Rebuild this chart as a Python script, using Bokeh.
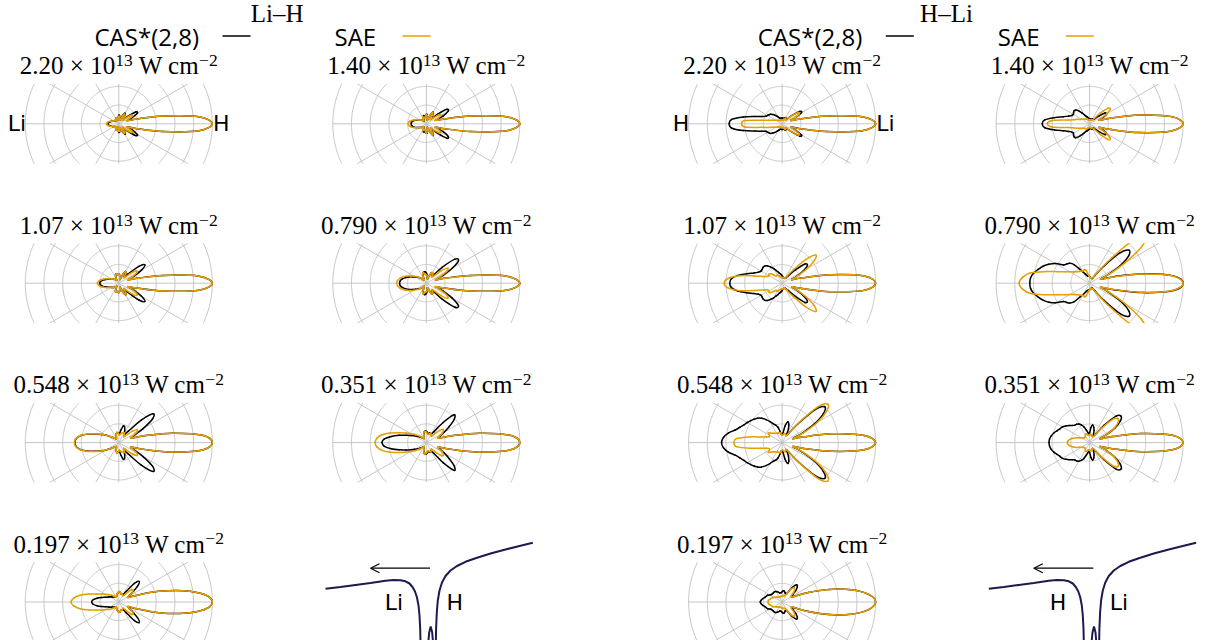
import numpy as np
from bokeh.plotting import figure
from bokeh.models import Range1d, Arrow, OpenHead
from bokeh.core.properties import value
from bokeh.embed import file_html
from bokeh.resources import INLINE

# ---------------- data ----------------
ANGLES_DEG = list(range(0, 181, 5))   # distributions are symmetric about the molecular axis
INTENSITY_LABELS = ["2.20", "1.40", "1.07", "0.790", "0.548", "0.351", "0.197"]
SERIES_NAMES = ["CAS*(2,8)", "SAE"]
TITLES = ["Li\u2013H", "H\u2013Li"]
RING_RADII = [1, 2, 3, 4, 5]
SPOKE_ANGLES = list(range(0, 360, 30))

# Li-H orientation (radius vs emission angle, 0 deg = towards H)
LIH_220_CAS = [5.0,4.3,2.4,1.0,0.5,0.8,1.15,1.1,0.6,0.3, 0.4,0.6,0.65,0.5,0.3,0.2,0.3,0.45,0.45,0.35, 0.25,0.2,0.3,0.35,0.3,0.2,0.2,0.25,0.25,0.25, 0.3,0.35,0.4,0.45,0.52,0.58,0.6]
LIH_220_SAE = [5.0,4.3,2.4,1.0,0.45,0.55,0.85,0.8,0.45,0.25, 0.35,0.55,0.6,0.45,0.25,0.2,0.3,0.4,0.4,0.35, 0.25,0.2,0.3,0.35,0.3,0.2,0.2,0.25,0.3,0.3, 0.3,0.35,0.4,0.5,0.58,0.63,0.66]
LIH_140_CAS = [5.0,4.3,2.4,1.0,0.55,1.0,1.35,1.35,0.8,0.35, 0.45,0.65,0.72,0.55,0.3,0.2,0.35,0.5,0.5,0.45, 0.4,0.45,0.45,0.35,0.25,0.2,0.2,0.25,0.3,0.35, 0.4,0.48,0.58,0.68,0.75,0.8,0.8]
LIH_140_SAE = [5.0,4.3,2.4,1.0,0.5,0.7,0.9,0.85,0.5,0.3, 0.4,0.6,0.7,0.55,0.3,0.2,0.3,0.45,0.5,0.45, 0.35,0.3,0.35,0.4,0.35,0.25,0.2,0.25,0.3,0.35, 0.4,0.5,0.62,0.75,0.87,0.95,0.97]
LIH_107_CAS = [5.0,4.3,2.4,1.0,0.55,0.9,1.4,1.7,1.4,0.7, 0.45,0.65,0.72,0.55,0.3,0.2,0.3,0.45,0.5,0.5, 0.45,0.5,0.5,0.4,0.25,0.2,0.25,0.3,0.35,0.4, 0.45,0.5,0.62,0.75,0.9,0.98,1.02]
LIH_107_SAE = [5.0,4.3,2.4,1.0,0.5,0.8,1.1,1.15,0.8,0.4, 0.45,0.65,0.72,0.55,0.3,0.2,0.3,0.45,0.5,0.5, 0.45,0.5,0.5,0.4,0.25,0.2,0.25,0.3,0.35,0.4, 0.45,0.55,0.7,0.85,1.0,1.1,1.15]
LIH_079_CAS = [5.0,4.3,2.4,1.0,0.55,1.0,1.6,2.1,2.0,1.2, 0.5,0.6,0.65,0.6,0.4,0.25,0.3,0.45,0.55,0.6, 0.62,0.6,0.5,0.35,0.25,0.2,0.25,0.35,0.45,0.55, 0.65,0.8,0.98,1.15,1.3,1.4,1.43]
LIH_079_SAE = [5.0,4.3,2.4,1.0,0.5,0.8,1.25,1.4,1.05,0.5, 0.45,0.6,0.65,0.6,0.4,0.25,0.3,0.4,0.45,0.45, 0.5,0.6,0.55,0.4,0.25,0.2,0.25,0.35,0.45,0.6, 0.75,0.92,1.12,1.3,1.45,1.55,1.58]
LIH_055_CAS = [5.0,4.5,2.9,1.4,0.7,0.9,1.5,2.2,2.4,1.7, 0.8,0.55,0.6,0.75,0.9,0.92,0.7,0.5,0.45,0.5, 0.55,0.5,0.4,0.3,0.25,0.25,0.3,0.35,0.45,0.58, 0.78,1.02,1.35,1.75,2.1,2.3,2.35]
LIH_055_SAE = [5.0,4.5,2.9,1.4,0.7,0.8,1.1,1.2,0.95,0.5, 0.4,0.5,0.6,0.6,0.55,0.5,0.45,0.4,0.45,0.5, 0.55,0.5,0.4,0.3,0.25,0.25,0.3,0.35,0.45,0.6, 0.8,1.05,1.38,1.78,2.12,2.32,2.37]
LIH_035_CAS = [5.0,4.5,2.9,1.4,0.7,0.8,1.1,1.5,1.95,2.1, 1.4,0.7,0.5,0.55,0.55,0.5,0.5,0.55,0.6,0.62, 0.6,0.5,0.4,0.3,0.25,0.28,0.33,0.4,0.48,0.58, 0.72,0.9,1.15,1.5,1.9,2.25,2.37]
LIH_035_SAE = [5.0,4.5,2.9,1.4,0.7,0.7,0.95,1.12,1.1,0.75, 0.45,0.45,0.5,0.55,0.5,0.45,0.45,0.5,0.55,0.6, 0.6,0.5,0.4,0.3,0.25,0.3,0.38,0.48,0.6,0.75, 0.95,1.2,1.55,2.0,2.4,2.65,2.74]
LIH_020_CAS = [5.0,4.6,3.5,2.2,1.1,0.6,0.6,0.85,1.3,1.55, 1.3,0.7,0.45,0.45,0.45,0.45,0.5,0.55,0.55,0.5, 0.45,0.4,0.35,0.3,0.3,0.32,0.36,0.4,0.42,0.48, 0.55,0.62,0.75,0.95,1.18,1.38,1.45]
LIH_020_SAE = [5.0,4.6,3.5,2.2,1.1,0.55,0.6,0.85,1.0,0.9, 0.55,0.4,0.4,0.45,0.45,0.45,0.5,0.55,0.55,0.5, 0.45,0.4,0.35,0.3,0.3,0.35,0.42,0.5,0.6,0.7, 0.8,1.0,1.25,1.65,2.1,2.42,2.55]

# H-Li orientation (0 deg = towards Li)
HLI_220_CAS = [5.0,4.3,2.4,1.0,0.5,0.8,1.2,1.15,0.7,0.35, 0.3,0.35,0.38,0.35,0.3,0.3,0.3,0.3,0.3,0.3, 0.3,0.3,0.32,0.36,0.42,0.5,0.6,0.7,0.8,0.85, 0.9,0.95,1.15,1.5,2.1,2.7,2.83]
HLI_220_SAE = [5.0,4.3,2.4,1.0,0.5,0.75,1.05,1.05,0.65,0.3, 0.25,0.3,0.35,0.3,0.25,0.2,0.2,0.2,0.2,0.2, 0.2,0.2,0.2,0.2,0.2,0.22,0.24,0.26,0.28,0.32, 0.38,0.45,0.55,0.75,1.1,2.0,2.17]
HLI_140_CAS = [5.0,4.4,2.7,1.2,0.55,0.8,1.05,1.0,0.65,0.35, 0.3,0.3,0.3,0.3,0.28,0.25,0.25,0.25,0.25,0.28, 0.3,0.35,0.4,0.45,0.55,0.7,0.9,1.05,1.08,1.05, 1.0,1.05,1.2,1.45,1.9,2.4,2.53]
HLI_140_SAE = [5.0,4.4,2.7,1.2,0.55,0.7,1.05,1.35,1.3,0.8, 0.35,0.25,0.25,0.25,0.22,0.2,0.2,0.2,0.2,0.2, 0.2,0.22,0.25,0.28,0.3,0.32,0.33,0.35,0.38,0.42, 0.5,0.55,0.7,0.85,1.15,2.0,2.26]
HLI_107_CAS = [5.0,4.4,2.6,1.1,0.55,0.85,1.3,1.65,1.6,1.0, 0.5,0.35,0.3,0.3,0.3,0.3,0.3,0.35,0.4,0.45, 0.5,0.55,0.65,0.75,0.9,1.05,1.2,1.3,1.32,1.3, 1.3,1.4,1.6,1.95,2.4,2.72,2.8]
HLI_107_SAE = [5.0,4.4,2.6,1.1,0.55,0.9,1.5,2.1,2.35,1.8, 0.9,0.45,0.3,0.3,0.3,0.3,0.3,0.3,0.3,0.3, 0.32,0.35,0.4,0.45,0.5,0.5,0.5,0.6,0.78,0.85, 0.8,0.85,1.05,1.5,2.3,2.9,3.1]
HLI_079_CAS = [5.0,4.5,2.9,1.35,0.65,1.1,1.9,2.55,2.75,2.3, 1.2,0.5,0.3,0.28,0.28,0.3,0.3,0.32,0.35,0.38, 0.38,0.4,0.45,0.55,0.7,0.9,1.3,1.5,1.6,1.7, 2.1,2.4,2.65,2.85,3.05,3.17,3.2]
HLI_079_SAE = [5.0,4.45,2.8,1.25,0.6,1.2,2.2,3.4,3.9,3.1, 1.5,0.6,0.35,0.3,0.3,0.3,0.3,0.3,0.35,0.4, 0.5,0.7,0.78,0.75,0.75,0.8,0.82,0.88,0.95,1.05, 1.22,1.45,1.8,2.4,3.2,3.6,3.77]
HLI_055_CAS = [5.0,4.4,2.7,1.2,0.6,1.2,2.0,2.7,2.98,2.5, 1.3,0.6,0.5,0.8,1.05,1.15,0.9,0.5,0.45,0.45, 0.6,0.85,1.0,1.1,1.3,1.5,1.7,1.85,1.95,2.05, 2.15,2.25,2.4,2.6,2.92,3.15,3.24]
HLI_055_SAE = [5.0,4.4,2.7,1.2,0.6,1.3,2.2,2.9,3.2,2.7, 1.4,0.6,0.4,0.45,0.5,0.5,0.45,0.4,0.4,0.45, 0.55,0.55,0.55,0.55,0.58,0.6,0.65,0.7,0.8,0.9, 0.78,0.75,0.88,1.15,1.75,2.45,2.57]
HLI_035_CAS = [5.0,4.45,2.8,1.25,0.6,1.0,1.55,2.0,2.2,2.0, 1.2,0.55,0.4,0.5,0.7,0.85,0.95,0.8,0.5,0.45, 0.55,0.7,0.9,1.05,1.15,1.2,1.22,1.3,1.42,1.55, 1.68,1.75,1.85,1.98,2.08,2.15,2.17]
HLI_035_SAE = [5.0,4.45,2.8,1.25,0.6,1.0,1.5,1.85,1.98,1.75, 1.0,0.5,0.35,0.35,0.35,0.4,0.45,0.45,0.4,0.38, 0.4,0.45,0.5,0.5,0.45,0.4,0.38,0.38,0.4,0.45, 0.5,0.6,0.75,0.9,1.05,1.15,1.19]
HLI_020_CAS = [5.0,4.65,3.75,2.6,1.5,0.7,0.6,0.7,0.95,1.15, 1.2,0.95,0.55,0.45,0.5,0.55,0.6,0.6,0.55,0.5, 0.5,0.5,0.55,0.6,0.65,0.68,0.68,0.67,0.68,0.7, 0.75,0.85,0.9,0.95,1.05,1.12,1.17]
HLI_020_SAE = [5.0,4.65,3.75,2.6,1.5,0.65,0.55,0.6,0.8,0.95, 1.0,0.85,0.5,0.4,0.35,0.35,0.35,0.35,0.32,0.3, 0.3,0.3,0.3,0.3,0.3,0.32,0.35,0.38,0.4,0.45, 0.5,0.55,0.6,0.65,0.7,0.74,0.75]

LIH_PANELS = [(LIH_220_CAS, LIH_220_SAE), (LIH_140_CAS, LIH_140_SAE), (LIH_107_CAS, LIH_107_SAE),
              (LIH_079_CAS, LIH_079_SAE), (LIH_055_CAS, LIH_055_SAE), (LIH_035_CAS, LIH_035_SAE),
              (LIH_020_CAS, LIH_020_SAE)]
HLI_PANELS = [(HLI_220_CAS, HLI_220_SAE), (HLI_140_CAS, HLI_140_SAE), (HLI_107_CAS, HLI_107_SAE),
              (HLI_079_CAS, HLI_079_SAE), (HLI_055_CAS, HLI_055_SAE), (HLI_035_CAS, HLI_035_SAE),
              (HLI_020_CAS, HLI_020_SAE)]

# schematic potential (offsets from the well centre, px-like units, V upwards)
POT_LEFT_X = [-102.5,-87.5,-72.5,-57.5,-42.5,-34.5,-27.5,-22.5,-18.5,-15.5,-13.0,-11.0,-9.5,-8.5,-7.8,-7.3]
POT_LEFT_V = [11.7,13.5,15.5,17.5,19.7,20.5,20.3,19.2,17.0,13.5,9.0,3.0,-5.0,-15.0,-28.0,-50.0]
POT_MID_X = [-0.5,1.2,2.7,4.2,5.7]
POT_MID_V = [-50.0,-32.0,-26.0,-32.0,-50.0]
POT_RIGHT_X = [7.7,8.1,8.8,9.8,11.5,14.0,17.5,22.5,29.0,37.5,47.5,62.5,77.5,92.5,104.8]
POT_RIGHT_V = [-50.0,-28.0,-12.0,0.0,10.0,18.0,24.5,30.0,34.5,38.7,42.3,47.0,51.0,54.7,57.7]

# ---------------- layout / style ----------------
W, H = 1212, 640
PX = 18.7                      # pixels per radius unit
CLIP = 40.0 / PX               # vertical half extent of each polar panel
TXT_K = 0.32                   # baseline correction of the text renderer (fraction of font size)
HALF_DX = 663.3
COL_X = [118.3, 425.8]
ROW_Y = [123.3, 282.7, 442.1, 601.5]
WELL = (427.5, 600.0)
BLACK = "#000000"
ORANGE = "#E69F00"
GRID = "#bfbfbf"
POT_COLOR = "#1d1a4e"
SERIF = value("Liberation Serif")
SANS = value("Open Sans")
DSANS = value("DejaVu Sans")


def ux(px):
    return px / PX


def uy(py):
    return -py / PX


def ty(py, size):
    """baseline position for text of the given pixel size"""
    return uy(py - TXT_K * size)


p = figure(width=W, height=H, x_range=Range1d(0, W / PX), y_range=Range1d(-H / PX, 0),
           output_backend="svg", toolbar_location=None, x_axis_type=None, y_axis_type=None,
           min_border=0, outline_line_color=None, background_fill_color="white")


def clip_y(xs, ys, lo, hi):
    ox, oy = [], []
    last = None
    for i in range(len(xs) - 1):
        x0, y0, x1, y1 = xs[i], ys[i], xs[i + 1], ys[i + 1]
        t0, t1 = 0.0, 1.0
        dy = y1 - y0
        if abs(dy) < 1e-12:
            if y0 < lo or y0 > hi:
                last = None
                continue
        else:
            ta, tb = (lo - y0) / dy, (hi - y0) / dy
            t0, t1 = max(t0, min(ta, tb)), min(t1, max(ta, tb))
            if t0 > t1:
                last = None
                continue
        sx, sy = x0 + t0 * (x1 - x0), y0 + t0 * dy
        ex, ey = x0 + t1 * (x1 - x0), y0 + t1 * dy
        if last is not None and abs(last[0] - sx) < 1e-9 and abs(last[1] - sy) < 1e-9:
            ox.append(ex); oy.append(ey)
        else:
            if ox:
                ox.append(np.nan); oy.append(np.nan)
            ox += [sx, ex]; oy += [sy, ey]
        last = (ex, ey)
    return ox, oy


def append(acc_x, acc_y, xs, ys):
    if not xs:
        return
    if acc_x:
        acc_x.append(np.nan); acc_y.append(np.nan)
    acc_x.extend(xs); acc_y.extend(ys)


centers = []  # (cx, cy, half, panel index)
for half in range(2):
    for k in range(7):
        row, col = divmod(k, 2)
        centers.append((ux(COL_X[col] + half * HALF_DX), uy(ROW_Y[row]), half, k))

# polar grid
gx, gy = [], []
th = np.radians(np.arange(0, 361, 1))
for cx, cy, half, k in centers:
    for r in RING_RADII:
        xs, ys = clip_y(list(cx + r * np.cos(th)), list(cy + r * np.sin(th)), cy - CLIP, cy + CLIP)
        append(gx, gy, xs, ys)
    rmax = max(RING_RADII)
    for a in SPOKE_ANGLES:
        ar = np.radians(a)
        xs, ys = clip_y([cx, cx + rmax * np.cos(ar)], [cy, cy + rmax * np.sin(ar)], cy - CLIP, cy + CLIP)
        append(gx, gy, xs, ys)
p.line(gx, gy, line_color=GRID, line_width=0.9)


def polar_points(vals, cx, cy):
    vals = list(vals)
    ang = np.radians(np.linspace(0, 180, len(vals)))
    full_r = np.array(vals + vals[-2:0:-1])
    full_a = np.concatenate([ang, 2 * np.pi - ang[-2:0:-1]])
    return cx + full_r * np.cos(full_a), cy + full_r * np.sin(full_a)


# smooth closed curves through the sampled points (Catmull-Rom as cubic Bezier segments)
for si, color in ((0, BLACK), (1, ORANGE)):
    seg = {k: [] for k in ("x0", "y0", "x1", "y1", "cx0", "cy0", "cx1", "cy1")}
    for cx, cy, half, k in centers:
        vals = (LIH_PANELS if half == 0 else HLI_PANELS)[k][si]
        X, Y = polar_points(vals, cx, cy)
        n = len(X)
        for i in range(n):
            i0, i2, i3 = (i - 1) % n, (i + 1) % n, (i + 2) % n
            seg["x0"].append(X[i]); seg["y0"].append(Y[i])
            seg["x1"].append(X[i2]); seg["y1"].append(Y[i2])
            seg["cx0"].append(X[i] + (X[i2] - X[i0]) / 6.0)
            seg["cy0"].append(Y[i] + (Y[i2] - Y[i0]) / 6.0)
            seg["cx1"].append(X[i2] - (X[i3] - X[i]) / 6.0)
            seg["cy1"].append(Y[i2] - (Y[i3] - Y[i]) / 6.0)
    p.bezier(line_color=color, line_width=1.5, line_cap="round", **seg)

# white bands just outside each polar window (the panels are clipped vertically)
ml, mr, mt, mb = [], [], [], []
for cx, cy, half, k in centers:
    ml += [cx - 5.6, cx - 5.6]; mr += [cx + 5.6, cx + 5.6]
    mb += [cy + CLIP, cy - CLIP - 1.6]; mt += [cy + CLIP + 1.3, cy - CLIP]
p.quad(left=ml, right=mr, top=mt, bottom=mb, fill_color="white", line_color=None)

# intensity labels (mantissa x 10^13 W cm^-2), Times-like metrics for centring
TW = {c: 500 for c in "0123456789"}
TW.update({".": 250, " ": 250, "\u00d7": 564, "W": 944, "c": 444, "m": 778, "\u2212": 564})


def tw(s, size):
    return sum(TW.get(c, 500) for c in s) * size / 1000.0


F = 25.0
FS = 0.7 * F
RAISE = 7.5
lx, ly, lt, ls = [], [], [], []
for cx, cy, half, k in centers:
    pieces = [(INTENSITY_LABELS[k] + " \u00d7 10", F, 0.0, 0.0), ("13", FS, RAISE, 0.24 * F),
              ("W cm", F, 0.0, 0.0), ("\u22122", FS, RAISE, 0.0)]
    total = sum(tw(t, s) + g for t, s, _, g in pieces)
    x = cx * PX - total / 2.0
    base = -cy * PX - 50.0
    for t, s, rz, g in pieces:
        lx.append(ux(x)); ly.append(ty(base - rz, s)); lt.append(t); ls.append("%.1fpx" % s)
        x += tw(t, s) + g
p.text(x=lx, y=ly, text=lt, text_font_size=ls, text_font=SERIF, text_align="left",
       text_baseline="alphabetic", text_color="black")

# headers and legends
for half in range(2):
    dx = half * HALF_DX
    tx = 276.7 if half == 0 else 946.0
    p.text(x=[ux(tx)], y=[ty(21.0, 25)], text=[TITLES[half]], text_font=SERIF, text_font_size="25px",
           text_align="center", text_baseline="alphabetic", text_color="black")
    p.text(x=[ux(94 + dx), ux(334 + dx)], y=[ty(44.0, 24), ty(44.0, 24)], text=SERIES_NAMES, text_font=SANS,
           text_font_size="24px", text_align="left", text_baseline="alphabetic", text_color="black")
    p.line([ux(222 + dx), ux(250 + dx)], [uy(35.5), uy(35.5)], line_color=BLACK, line_width=1.6)
    p.line([ux(402 + dx), ux(430 + dx)], [uy(35.5), uy(35.5)], line_color=ORANGE, line_width=1.6)

# atom labels on the first panels
p.text(x=[ux(25.5), ux(212.5)], y=[ty(130.5, 22), ty(130.5, 22)], text=["Li", "H"], text_font=DSANS,
       text_font_size="22px", text_align=["right", "left"], text_baseline="alphabetic", text_color="black")
p.text(x=[ux(25.5 + HALF_DX), ux(212.5 + HALF_DX)], y=[ty(130.5, 22), ty(130.5, 22)], text=["H", "Li"],
       text_font=DSANS, text_font_size="22px", text_align=["right", "left"], text_baseline="alphabetic",
       text_color="black")

# schematic potentials with field arrow
for half in range(2):
    wx = WELL[0] + half * HALF_DX
    wy = WELL[1]
    for X, V in ((POT_LEFT_X, POT_LEFT_V), (POT_MID_X, POT_MID_V), (POT_RIGHT_X, POT_RIGHT_V)):
        p.line([ux(wx + a) for a in X], [uy(wy - v) for v in V], line_color=POT_COLOR, line_width=2.0)
    left_lab, right_lab = ("Li", "H") if half == 0 else ("H", "Li")
    p.text(x=[ux(wx - 25.0), ux(wx + 18.5)], y=[ty(609.0, 22), ty(609.0, 22)], text=[left_lab, right_lab],
           text_font=DSANS, text_font_size="22px", text_align=["right", "left"],
           text_baseline="alphabetic", text_color="black")
    p.add_layout(Arrow(end=OpenHead(size=9, line_width=1.2, line_color="black"),
                       x_start=ux(wx + 2.0), y_start=uy(567.7), x_end=ux(wx - 57.5), y_end=uy(567.7),
                       line_width=1.2, line_color="black"))

open("out.html", "w").write(file_html(p, INLINE))
